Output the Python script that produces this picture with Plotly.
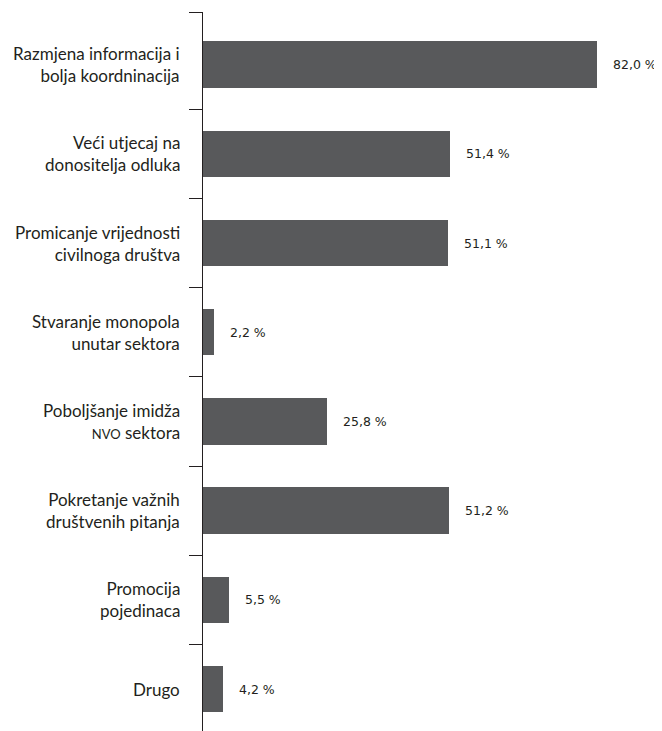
import plotly.graph_objects as go

categories = [
    "Razmjena informacija i<br>bolja koordninacija",
    "Veći utjecaj na<br>donositelja odluka",
    "Promicanje vrijednosti<br>civilnoga društva",
    "Stvaranje monopola<br>unutar sektora",
    "Poboljšanje imidža<br><span style='font-size:13px'>NVO</span> sektora",
    "Pokretanje važnih<br>društvenih pitanja",
    "Promocija<br>pojedinaca",
    "Drugo",
]
values = [82.0, 51.4, 51.1, 2.2, 25.8, 51.2, 5.5, 4.2]
value_labels = ["82,0 %", "51,4 %", "51,1 %", "2,2 %", "25,8 %", "51,2 %", "5,5 %", "4,2 %"]

pos = list(range(len(categories)))
bar_color = "#58595b"

fig = go.Figure()
fig.add_trace(go.Bar(
    x=values, y=pos, orientation="h",
    marker=dict(color=bar_color, line=dict(width=0)),
    width=0.52, hoverinfo="skip",
))

ann = []
for p, c in zip(pos, categories):
    ann.append(dict(x=0, xref="paper", y=p, yref="y", text=c, showarrow=False,
                    xanchor="right", yanchor="middle", align="right", xshift=-21,
                    font=dict(family="Lato", size=17, color="#231f20")))
for p, v, t in zip(pos, values, value_labels):
    ann.append(dict(x=v, xref="x", y=p, yref="y", text=t, showarrow=False,
                    xanchor="left", yanchor="middle", xshift=14,
                    font=dict(family="DejaVu Sans", size=12.5, color="#231f20")))

n = len(categories)
tickvals = [-0.59] + [i + 0.5 for i in range(n - 1)]

fig.update_layout(
    width=654, height=723,
    margin=dict(l=195, r=0, t=4, b=0),
    paper_bgcolor="white", plot_bgcolor="white",
    showlegend=False, bargap=0,
    xaxis=dict(range=[0, 95.6], showgrid=False, zeroline=False, showticklabels=False,
               showline=False, ticks=""),
    yaxis=dict(range=[n - 0.53, -0.59], showgrid=False, zeroline=False,
               showticklabels=False, showline=True, linecolor="#231f20", linewidth=1,
               ticks="outside", tickvals=tickvals, ticklen=13, tickcolor="#231f20",
               tickwidth=1),
    annotations=ann,
)
fig.write_html("out.html")
